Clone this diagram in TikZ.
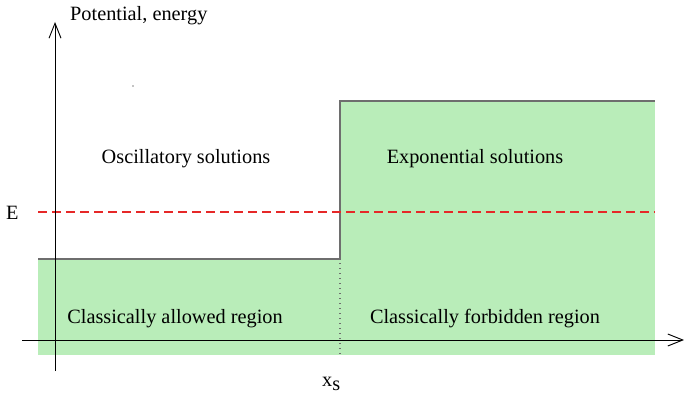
\documentclass[tikz,border=0pt]{standalone}
\usepackage{fontspec}
\setmainfont{Liberation Serif}
\usetikzlibrary{arrows.meta}
\definecolor{regiongreen}{RGB}{185,237,185}
\definecolor{potgray}{RGB}{110,110,110}
\definecolor{dashred}{RGB}{230,40,40}
\tikzset{
  axis/.style={line width=1pt, black, -{Straight Barb[length=15pt,width=12pt,line width=0.9pt]}},
  lbl/.style={font=\fontsize{20.3}{23}\selectfont, inner sep=0pt},
}
\begin{document}
\begin{tikzpicture}[x=1pt,y=-1pt]
\useasboundingbox (0,0) rectangle (684,393);
% green regions
\fill[regiongreen] (38,259) rectangle (340,355);
\fill[regiongreen] (340,101) rectangle (655,355);
% potential outline
\draw[potgray, line width=1.1pt] (38,259) -- (340,259) -- (340,101) -- (655,101);
% dotted line
\draw[potgray, line width=1.3pt, dash pattern=on 1.3pt off 3.7pt] (340,263) -- (340,356);
% energy line
\draw[dashred, line width=1.5pt, dash pattern=on 9pt off 5pt] (38,212) -- (655,212);
% axes
\coordinate (yb) at (55,371);
\coordinate (yt) at (55,22);
\coordinate (xl) at (22,340);
\coordinate (xr) at (684,340);
\draw[axis] (yb) -- (yt);
\draw[axis] (xl) -- (xr);
% small dot
\fill (133,86) circle (0.6pt);
% labels
\node[lbl, anchor=base west] (ylab) at (70,21) {Potential, energy};
\node[lbl, anchor=base west] (E) at (6,219) {E};
\node[lbl] (osc) at (186,159) {Oscillatory solutions};
\node[lbl] (exp) at (475,159) {Exponential solutions};
\node[lbl] (allowed) at (175,319) {Classically allowed region};
\node[lbl] (forbid) at (485,319) {Classically forbidden region};
\node[lbl, anchor=base west] (xs) at (322,386) {x\raisebox{-4pt}{s}};
\end{tikzpicture}
\end{document}
